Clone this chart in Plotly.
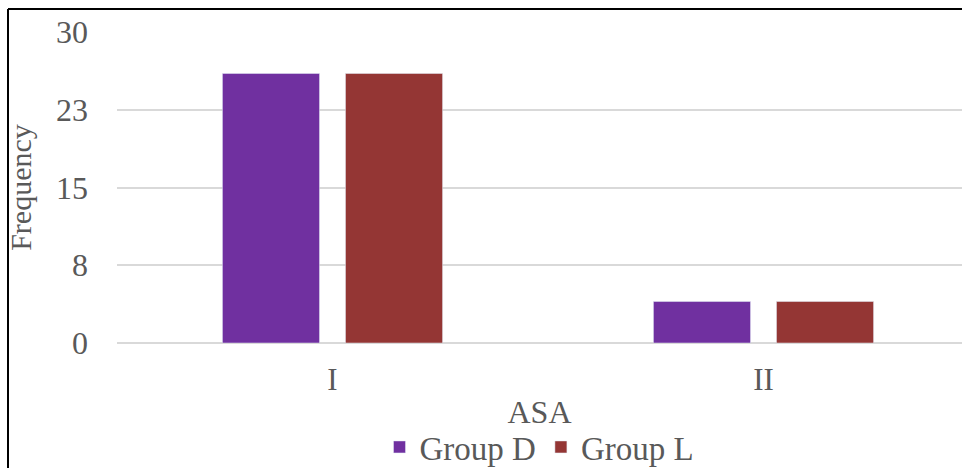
import plotly.graph_objects as go

categories = ["I", "II"]
group_d = [26, 4]
group_l = [26, 4]
y_tickvals = [0, 7.5, 15, 22.5, 30]
y_ticktext = ["0", "8", "15", "23", "30"]

FONT = "Liberation Serif"
GRAY = "#595959"

W, H = 962, 468
L, R, T, B = 117, 0, 32, 125
plot_w = W - L - R
plot_h = H - T - B
band = 431.0

fig = go.Figure()
fig.add_trace(go.Bar(name="Group D", x=categories, y=group_d, marker_color="#7030A0"))
fig.add_trace(go.Bar(name="Group L", x=categories, y=group_l, marker_color="#943634"))

def px_x(px):
    return (px - L) / plot_w

def px_y(py):
    return (H - B - py) / plot_h

def f(size):
    return dict(family=FONT, size=size, color=GRAY)

fig.update_layout(
    width=W, height=H,
    margin=dict(l=L, r=R, t=T, b=B, pad=0, autoexpand=False),
    paper_bgcolor="white", plot_bgcolor="white",
    barmode="group", bargap=0.429, bargroupgap=0.211,
    font=f(30),
    showlegend=True,
    legend=dict(orientation="h", x=0.5, xanchor="center", y=px_y(447), yanchor="middle",
                font=f(33), itemclick=False, bgcolor="rgba(0,0,0,0)",
                borderwidth=0, tracegroupgap=0),
    xaxis=dict(
        type="category", range=[-0.5, -0.5 + plot_w / band],
        showgrid=False, showline=False, zeroline=False, ticks="",
        tickfont=f(31), ticklabelstandoff=15,
        title=dict(text="ASA", font=f(32), standoff=4),
        fixedrange=True,
    ),
    yaxis=dict(
        range=[0, 30], tickmode="array", tickvals=y_tickvals, ticktext=y_ticktext,
        showgrid=True, gridcolor="#D9D9D9", gridwidth=2,
        zeroline=True, zerolinecolor="#D9D9D9", zerolinewidth=2,
        showline=False, ticks="", ticklabelstandoff=28,
        tickfont=f(32),
        title=dict(text="Frequency", font=f(30), standoff=15),
        fixedrange=True,
    ),
    shapes=[
        dict(type="line", xref="paper", yref="paper", x0=px_x(8), x1=px_x(8),
             y0=px_y(9), y1=px_y(470), line=dict(color="black", width=2), layer="above"),
        dict(type="line", xref="paper", yref="paper", x0=px_x(8), x1=px_x(964),
             y0=px_y(9), y1=px_y(9), line=dict(color="black", width=2), layer="above"),
    ],
)

fig.write_html("out.html", config={"displayModeBar": False})
